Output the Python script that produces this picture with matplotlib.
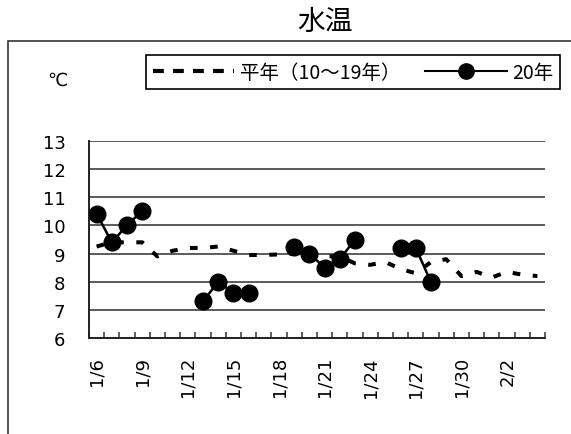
import numpy as np
import matplotlib
matplotlib.use('Agg')
import matplotlib.pyplot as plt
from matplotlib.patches import Rectangle
from matplotlib.lines import Line2D

plt.rcParams['font.family'] = ['DejaVu Sans', 'Noto Sans CJK JP']

dates = ['1/6', '1/7', '1/8', '1/9', '1/10', '1/11', '1/12', '1/13', '1/14', '1/15',
         '1/16', '1/17', '1/18', '1/19', '1/20', '1/21', '1/22', '1/23', '1/24', '1/25',
         '1/26', '1/27', '1/28', '1/29', '1/30', '1/31', '2/1', '2/2', '2/3', '2/4']
normal = [9.25, 9.4, 9.4, 9.4, 8.9, 9.1, 9.2, 9.2, 9.25, 9.1,
          8.95, 8.95, 8.97, 9.0, 8.95, 8.9, 8.9, 8.65, 8.6, 8.7,
          8.45, 8.3, 8.7, 8.8, 8.2, 8.35, 8.15, 8.35, 8.25, 8.2]
nan = np.nan
record = [10.42, 9.4, 10.0, 10.52, nan, nan, nan, 7.3, 8.0, 7.6,
          7.6, nan, nan, 9.23, 9.0, 8.5, 8.8, 9.5, nan, nan,
          9.2, 9.2, 7.98, nan, nan, nan, nan, nan, nan, nan]
yticks = [6, 7, 8, 9, 10, 11, 12, 13]
label_normal = '平年（10～19年）'
label_record = '20年'

W, H = 571, 435
fig = plt.figure(figsize=(W / 100, H / 100), dpi=100)
ax = fig.add_axes([89 / W, 96 / H, 456 / W, 197 / H])

x = np.arange(len(dates))
ax.plot(x, normal, color='black', lw=2.9, linestyle=(0, (1.9, 3.1)),
        dash_capstyle='butt', zorder=2)
ax.plot(x, record, color='black', lw=1.8, marker='o', ms=12, zorder=3)

ax.set_xlim(-0.5, len(dates) - 0.5)
ax.set_ylim(yticks[0], yticks[-1])
ax.set_yticks(yticks)
ax.yaxis.grid(True, color='#404040', lw=1.2)
ax.set_axisbelow(True)
for s in ['top', 'right']:
    ax.spines[s].set_visible(False)
for s in ['left', 'bottom']:
    ax.spines[s].set_color('#222222')
    ax.spines[s].set_linewidth(1.4)

ax.tick_params(axis='y', length=0, pad=17, labelsize=13)
ax.set_xticks(x[::3])
ax.set_xticklabels(dates[::3], rotation=90)
ax.tick_params(axis='x', which='major', length=0, pad=13, labelsize=13)
ax.set_xticks(np.arange(-0.5, len(dates), 1), minor=True)
ax.tick_params(axis='x', which='minor', direction='in', length=4.3, width=1.1,
               color='#333333')

fig.text(325 / W, 1 - 22 / H, '水温', ha='center', va='center', fontsize=20,
         family='Noto Sans CJK JP')
fig.text(57.5 / W, 1 - 81 / H, '℃', ha='center', va='center', fontsize=13)

fig.add_artist(Rectangle((7.5 / W, -0.1), 1.2, 1 - 41.7 / H + 0.1,
                         transform=fig.transFigure, fill=False,
                         ec='#333333', lw=1.2, clip_on=False))

h1 = Line2D([], [], color='black', lw=3, linestyle=(0, (2.6, 2.2)),
            dash_capstyle='butt')
h2 = Line2D([], [], color='black', lw=1.5, marker='o', ms=11)
leg = fig.legend([h1, h2], [label_normal, label_record], loc='upper left',
                 bbox_to_anchor=(146 / W, 1 - 55.7 / H), ncol=2,
                 frameon=True, fancybox=False, edgecolor='black',
                 borderaxespad=0, handlelength=4.2, handletextpad=0.26,
                 columnspacing=1.3, borderpad=0.35, framealpha=1,
                 prop={'family': 'Noto Sans CJK JP', 'size': 14})
leg.get_frame().set_linewidth(1.2)

fig.savefig('out.png', dpi=100)
